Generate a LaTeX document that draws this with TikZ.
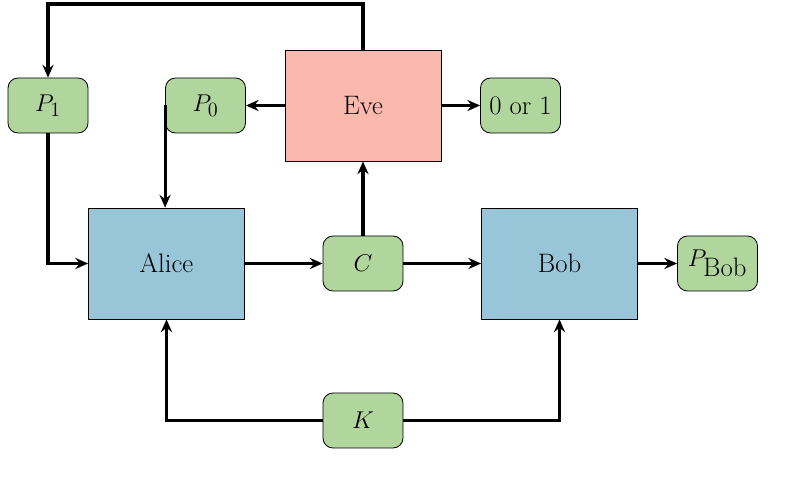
\documentclass[tikz,border=0pt]{standalone}
\usepackage{amsmath}
\usetikzlibrary{arrows.meta}
\definecolor{everose}{RGB}{251,185,173}
\definecolor{partyblue}{RGB}{152,197,216}
\definecolor{msggreen}{RGB}{176,214,157}

\begin{document}
\begin{tikzpicture}[party/.style = {draw, semithick, fill=partyblue, minimum width=3.9cm, minimum height=2.775cm},
	msg/.style = {draw, semithick, fill=msggreen, rounded corners=.25cm, minimum width=2cm, minimum height=1.375cm, inner sep=1pt},
	conn/.style = {line width=2.2pt, -{Stealth[length=3.2mm, width=2.8mm, inset=1.1mm]}},
	font=\fontsize{19}{22}\selectfont]
	\useasboundingbox (0,0) rectangle (19.8,12.1);
	\coordinate (top) at (0,12.0);
	\node[party] (alice) at (4.1625,5.5125) {Alice};
	\node[msg] (c) [right of=alice,xshift=3.9125cm] {$C$};
	\node[party] (bob) [right of=c,xshift=3.9125cm] {Bob};
	\node[msg] (pbob) [right of=bob,xshift=2.95cm] {$P_{\hbox{Bob}}$};
	\node[party, fill=everose] (eve) [above of=c,yshift=2.95cm] {Eve};
	\node[msg] (k) [below of=c,yshift=-2.925cm] {$K$};
	\node[msg] (p0) [left of=eve,xshift=-2.9375cm] {$P_0$};
	\node[msg] (p1) [left of=p0,xshift=-2.9375cm] {$P_1$};
	\node[msg] (bit) [right of=eve,xshift=2.9375cm] {0 or 1};
	\draw[conn] (eve.north) -- (eve.north |- top) -| (p1.north);
	\draw[conn] (p1.south) |- (alice.west);
	\draw[conn] (p0.west) -- (p0.west |- alice.north);
	\draw[conn] (eve.west) -- (p0.east);
	\draw[conn] (eve.east) -- (bit.west);
	\draw[conn] (alice.east) -- (c.west);
	\draw[conn] (c.east) -- (bob.west);
	\draw[conn] (c.north) -- (eve.south);
	\draw[conn] (bob.east) -- (pbob.west);
	\draw[conn] (k.west) -| (alice.south);
	\draw[conn] (k.east) -| (bob.south);
\end{tikzpicture}
\end{document}
